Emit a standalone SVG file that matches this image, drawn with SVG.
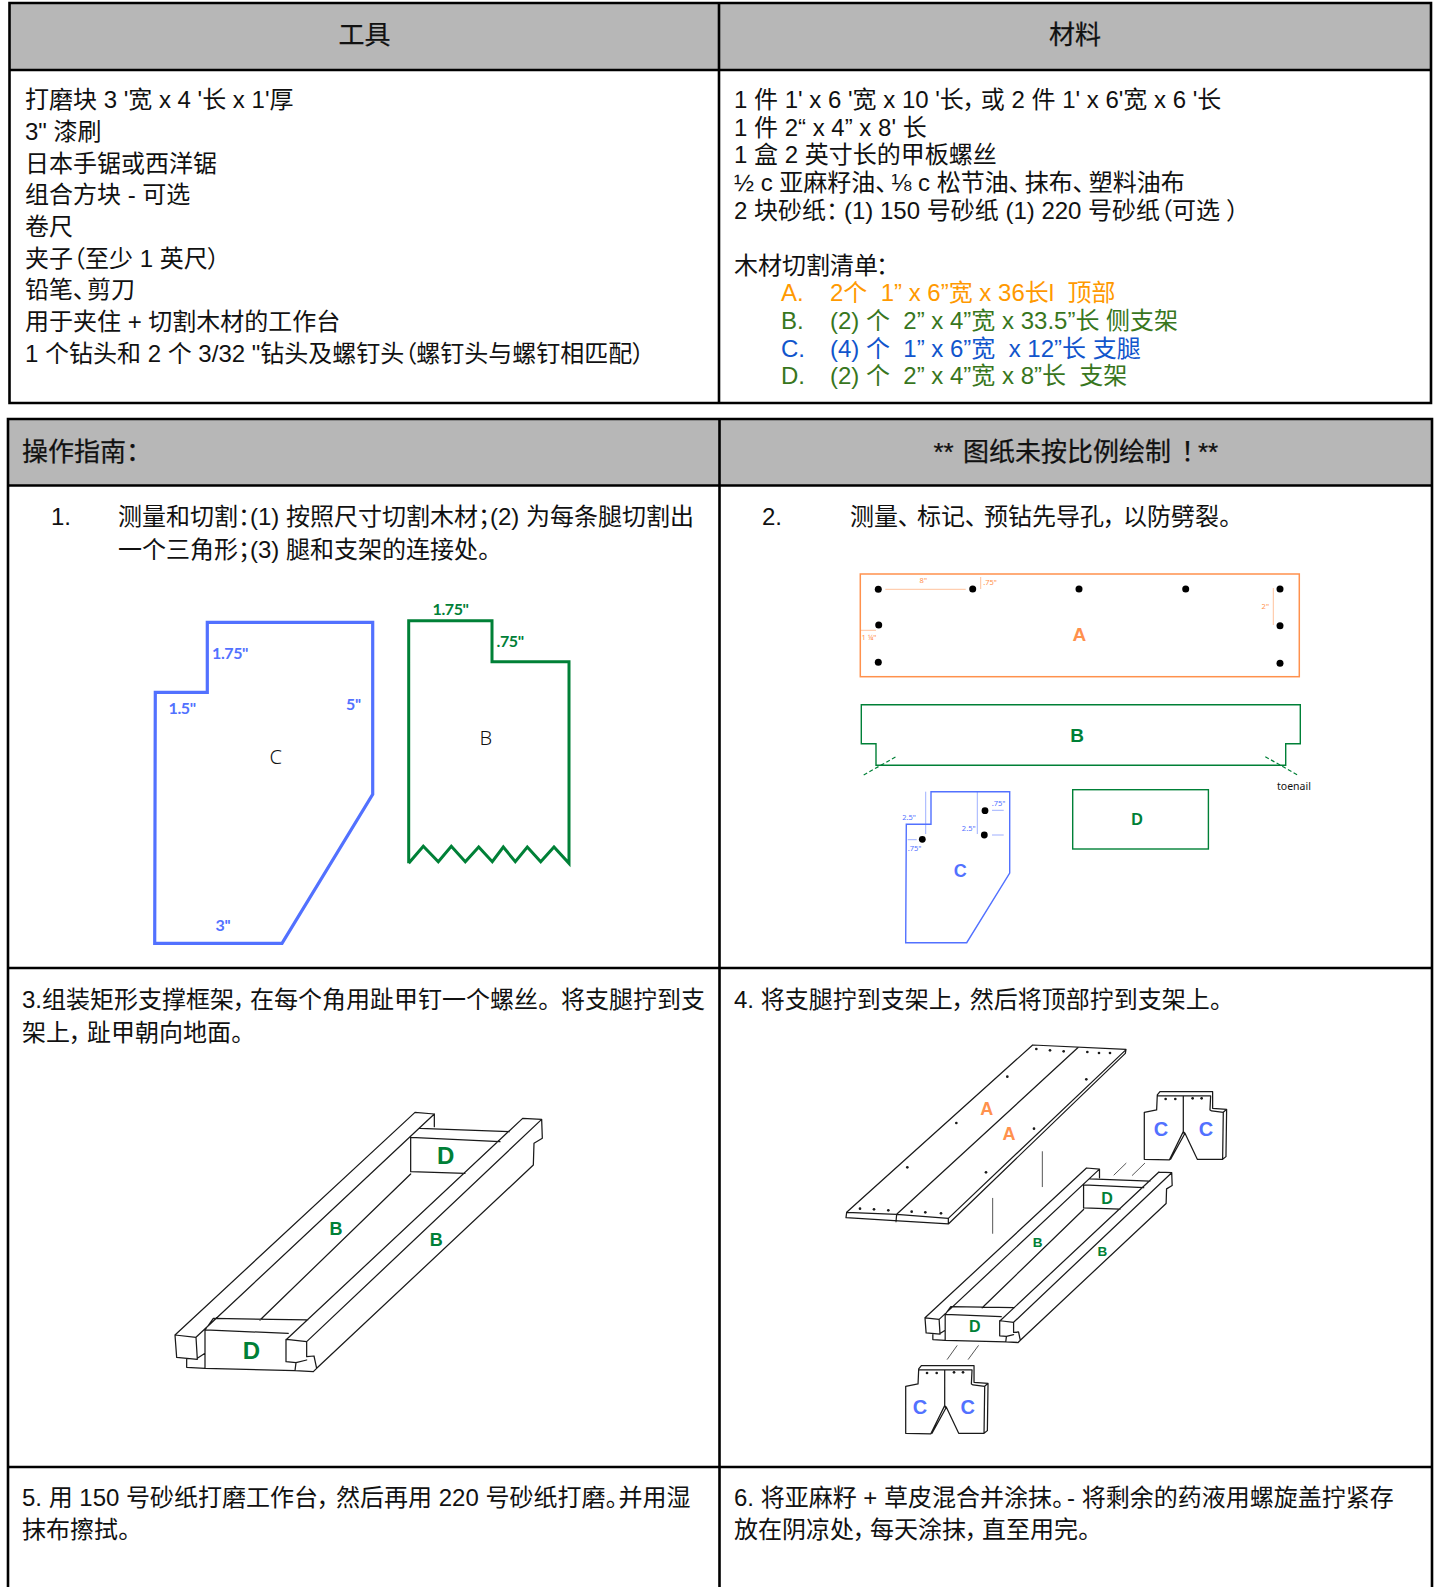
<svg xmlns="http://www.w3.org/2000/svg" width="1437" height="1587" viewBox="0 0 1437 1587">
<style>
text{font-family:"Liberation Sans","Noto Sans CJK SC",sans-serif;font-size:24px;fill:#111;font-feature-settings:"palt";white-space:pre}
.c{text-anchor:middle}
.h{font-size:26px;stroke:#111;stroke-width:.25}
.t{fill:none;stroke:#000;stroke-width:2.6}
.o{fill:#ff9900}.g{fill:#38761d}.b{fill:#1155cc}
.lb{font-family:"Lato","Noto Sans",sans-serif;font-weight:700;font-size:16px;letter-spacing:-.4px;font-feature-settings:normal}
.lc{font-family:"Liberation Sans",sans-serif;font-weight:700;text-anchor:middle;dominant-baseline:central;font-feature-settings:normal}
.sm{font-family:"Noto Sans",sans-serif;font-size:7.5px;text-anchor:middle;font-feature-settings:normal}
.bl{font-family:"Noto Sans",sans-serif;font-size:20px;font-weight:300;text-anchor:middle;font-feature-settings:normal}
.ln{fill:none;stroke:#1a1a1a;stroke-width:1.25;stroke-linejoin:round;stroke-linecap:round;vector-effect:non-scaling-stroke}
.ar{stroke-width:.9;stroke:#444}
.cb{fill:#5271ff}.cg{fill:#008037}.co{fill:#ff914d}
.sb{fill:none;stroke:#5271ff}.sg{fill:none;stroke:#008037}.so{fill:none;stroke:#ff914d}
.dm{stroke-width:.8;opacity:.7}
</style>
<defs>
<g id="frame">
<path class="ln" d="M45 705L765 37L823 42L823 80M108 712L823 42M45 705L108 712L112 778L50 772L45 705M80 778L80 802L135 805M112 775L135 760M135 690L135 805L405 812M135 690L160 655L443 660M135 690L385 700M752 112L752 215L915 220M300 660L752 222M752 112L1020 125M780 85L1048 95M1088 55L380 718L440 725L1145 58L1088 55M1145 58L1147 115L1122 130L1120 195L470 805M440 725L440 770L462 768L470 805L460 815L405 812L408 788L378 785L378 718L380 718M408 788L440 780"/>
</g>
<g id="legs">
<path class="ln" d="M0 12L37 5L39 -40L47 -50L119 -50L205 -50L205 0L247 3L245 145L235 153L159 153L122 75L117 70L75 155L0 153ZM39 -37L115 -37L199 -37L197 5L202 8L237 12L235 153M237 12L247 3M117 -37L117 70L119 75M79 153L122 75"/>
<g fill="#1a1a1a"><circle cx="64" cy="-28" r="4"/><circle cx="93" cy="-28" r="4"/><circle cx="145" cy="-30" r="4"/><circle cx="172" cy="-30" r="4"/></g>
</g>
</defs>
<g id="table-top">
<rect x="9.500" y="3" width="1421.500" height="67" fill="#b7b7b7"/>
<path class="t" d="M9.500 3H1431V403H9.500ZM9.500 70H1431M719 3V403"/>
<text class="c h" x="364.500" y="44">工具</text>
<text class="c h" x="1075" y="44">材料</text>
</g>
<g id="tools">
<text x="25" y="108">打磨块 3 '宽 x 4 '长 x 1'厚</text>
<text x="25" y="140">3" 漆刷</text>
<text x="25" y="172">日本手锯或西洋锯</text>
<text x="25" y="203">组合方块 - 可选</text>
<text x="25" y="235">卷尺</text>
<text x="25" y="267">夹子（至少 1 英尺）</text>
<text x="25" y="298">铅笔、<tspan dx="2">剪刀</tspan></text>
<text x="25" y="330">用于夹住 + 切割木材的工作台</text>
<text x="25" y="362">1 个钻头和 2 个 3/32 "钻头及螺钉头（螺钉头与螺钉相匹配）</text>
</g>
<g id="materials">
<text x="734" y="108">1 件 1' x 6 '宽 x 10 '长，<tspan dx="5">或 2 件 1' x 6'宽 x 6 '长</tspan></text>
<text x="734" y="136">1 件 2“ x 4” x 8' 长</text>
<text x="734" y="163">1 盒 2 英寸长的甲板螺丝</text>
<text x="734" y="191">½ c 亚麻籽油、<tspan dx="4">⅛ c 松节油、</tspan><tspan dx="4">抹布、</tspan><tspan dx="4">塑料油布</tspan></text>
<text x="734" y="219">2 块砂纸：<tspan dx="6">(1) 150 号砂纸 (1) 220 号砂纸（可选 ）</tspan></text>
<text x="734" y="274">木材切割清单<tspan dx="-2">：</tspan></text>
<text class="o" x="781" y="301">A.</text><text class="o" x="830" y="301">2个  1” x 6”宽 x 36长l  顶部</text>
<text class="g" x="781" y="329">B.</text><text class="g" x="830" y="329">(2) 个  2” x 4”宽 x 33.5”长 侧支架</text>
<text class="b" x="781" y="357">C.</text><text class="b" x="830" y="357">(4) 个  1” x 6”宽  x 12”长 支腿</text>
<text class="g" x="781" y="384">D.</text><text class="g" x="830" y="384">(2) 个  2” x 4”宽 x 8”长  支架</text>
</g>
<g id="table-main">
<rect x="8" y="419" width="1424" height="66" fill="#b7b7b7"/>
<path class="t" d="M8 1587V419H1432V1587M8 485.500H1432M8 968H1432M8 1467H1432M719.500 419V1587"/>
<text class="h" x="22" y="461">操作指南：</text>
<text class="h" x="933.500" y="461">**<tspan x="963">图纸未按比例绘制</tspan><tspan x="1181">！</tspan><tspan x="1198">**</tspan></text>
</g>
<g id="step1">
<text x="51" y="525">1.</text>
<text x="118" y="525">测量和切割：(1) 按照尺寸切割木材；(2) 为每条腿切割出</text>
<text x="118" y="558">一个三角形；(3) 腿和支架的连接处。</text>
<path class="sb" stroke-width="3.200" d="M207.300 622.300H372.700V794.300L282 943.300H154.700L155.300 692.300H207.300Z"/>
<path class="sg" stroke-width="3" d="M408.700 863.300V620.700H492V661.700H569V863.300L554 847L540.700 861.700L527.300 847L515.300 861.700L503.300 847L492.300 861.700L478.700 847L465.300 861.700L451.300 846.300L438.300 861.700L423.300 846.300L408.700 863.300"/>
<text class="lb cb" x="212" y="659">1.75''</text>
<text class="lb cb" x="168.500" y="714">1.5''</text>
<text class="lb cb" x="346" y="710">5''</text>
<text class="lb cb" x="215.500" y="931">3''</text>
<text class="lb cg" x="432.500" y="615">1.75''</text>
<text class="lb cg" x="496.500" y="647">.75''</text>
<text class="bl" x="275.700" y="764">C</text>
<text class="bl" x="485.700" y="745">B</text>
</g>
<g id="step2">
<text x="762" y="525">2.</text>
<text x="850" y="525">测量、<tspan dx="7">标记、</tspan><tspan dx="7">预钻先导孔，</tspan><tspan dx="7">以防劈裂。</tspan></text>
<rect class="so" stroke-width="1.500" x="860.300" y="574" width="439" height="102.700"/>
<g fill="#000"><circle cx="878.300" cy="589.300" r="3.500"/><circle cx="972.700" cy="589" r="3.500"/><circle cx="1079" cy="589" r="3.500"/><circle cx="1185.700" cy="589" r="3.500"/><circle cx="1280" cy="589" r="3.500"/><circle cx="878.700" cy="625" r="3.500"/><circle cx="1280" cy="625.700" r="3.500"/><circle cx="878.300" cy="662.300" r="3.500"/><circle cx="1280" cy="663.300" r="3.500"/></g>
<path class="so dm" d="M885.300 589.300H965.700M980.700 577V589M1273.300 588V625M861 630.300H876"/>
<text class="sm co" x="923.300" y="583">8"</text><text class="sm co" x="990" y="585">.75"</text><text class="sm co" x="1265.300" y="609">2"</text><text class="sm co" x="869" y="640">1 ¼"</text>
<text class="lc co" style="font-size:19px" x="1079.300" y="634">A</text>
<path class="sg" stroke-width="1.400" d="M861.300 704.700H1300.300V743.700H1285.700V765.300H876V743.700H861.300Z"/>
<path class="sg" stroke-width="1.200" stroke-dasharray="4 2.500" d="M863.700 775L896 756.700M1265.300 756.700L1297.700 775"/>
<text class="lc cg" style="font-size:19px" x="1077" y="735">B</text>
<text style="font-family:'Noto Sans',sans-serif;font-size:10.500px;font-feature-settings:normal" x="1277" y="789.500" fill="#222">toenail</text>
<path class="sb" stroke-width="1.400" d="M931 791.700H1009.700V873L966.700 942.700H905.700L906.300 824.300H931Z"/>
<g fill="#000"><circle cx="985" cy="810.700" r="3.400"/><circle cx="984.300" cy="835" r="3.400"/><circle cx="922.300" cy="839.300" r="3.400"/></g>
<path class="sb dm" d="M925.700 791.700V834M977.300 791.700V834M992 810.300H1003.700M992 835H1003.700M907.700 839.700H916.700"/>
<text class="sm cb" x="909" y="820">2.5"</text><text class="sm cb" x="968.700" y="831">2.5"</text><text class="sm cb" x="998.500" y="806">.75"</text><text class="sm cb" x="914.500" y="850.500">.75"</text>
<text class="lc cb" style="font-size:18px" x="960.300" y="871">C</text>
<rect class="sg" stroke-width="1.400" x="1072.700" y="789.700" width="135.700" height="59.300"/>
<text class="lc cg" style="font-size:16px" x="1137" y="819.700">D</text>
</g>
<g id="step3">
<text x="22" y="1008">3.组装矩形支撑框架，<tspan dx="4">在每个角用趾甲钉一个螺丝。</tspan><tspan dx="11">将支腿拧到支</tspan></text>
<text x="22" y="1041">架上，<tspan dx="5">趾甲朝向地面。</tspan></text>
<use href="#frame" transform="translate(160 1100) scale(.33333)"/>
<text class="lc cg" style="font-size:24px" x="445.700" y="1155.500">D</text>
<text class="lc cg" style="font-size:24px" x="251.500" y="1350.500">D</text>
<text class="lc cg" style="font-size:18px" x="336" y="1228.700">B</text>
<text class="lc cg" style="font-size:18px" x="436.300" y="1240.300">B</text>
</g>
<g id="step4">
<text x="734" y="1008">4. 将支腿拧到支架上，<tspan dx="5">然后将顶部拧到支架上。</tspan></text>
<g transform="translate(830 1030) scale(.33333)">
<path class="ln" d="M50 547L608 45L888 58L886 70L355 582L205 573L48 563L50 547L200 553L355 565L885 62M200 553L745 52M200 553L198 575M355 565L355 582"/>
<path class="ln ar" d="M637 365V470M488 505V610M888 400L852 435M944 400L907 436"/>
<g fill="#1a1a1a"><circle cx="90" cy="536" r="4"/><circle cx="132" cy="538" r="4"/><circle cx="175" cy="541" r="4"/><circle cx="245" cy="545" r="4"/><circle cx="286" cy="547" r="4"/><circle cx="333" cy="550" r="4"/><circle cx="232" cy="412" r="4"/><circle cx="379" cy="279" r="4"/><circle cx="532" cy="140" r="4"/><circle cx="619" cy="57" r="4"/><circle cx="660" cy="61" r="4"/><circle cx="701" cy="64" r="4"/><circle cx="772" cy="66" r="4"/><circle cx="807" cy="69" r="4"/><circle cx="840" cy="69" r="4"/><circle cx="769" cy="148" r="4"/><circle cx="612" cy="296" r="4"/><circle cx="468" cy="427" r="4"/></g>
</g>
<use href="#frame" transform="translate(914.900 1159.700) scale(.2243)"/>
<path class="ln ar" d="M947.300 1359.300L957 1345.700M968.300 1359.300L978.300 1345.700"/>
<use href="#legs" transform="translate(1144.300 1108.300) scale(.33333)"/>
<use href="#legs" transform="translate(905.700 1382.300) scale(.33333)"/>
<text class="lc co" style="font-size:18px" x="986.700" y="1109.300">A</text>
<text class="lc co" style="font-size:18px" x="1009" y="1134.300">A</text>
<text class="lc cb" style="font-size:20px" x="1161" y="1129.300">C</text>
<text class="lc cb" style="font-size:20px" x="1206" y="1129.300">C</text>
<text class="lc cb" style="font-size:20px" x="920" y="1406.700">C</text>
<text class="lc cb" style="font-size:20px" x="967.700" y="1406.700">C</text>
<text class="lc cg" style="font-size:16px" x="1107" y="1198.300">D</text>
<text class="lc cg" style="font-size:16px" x="974.700" y="1326">D</text>
<text class="lc cg" style="font-size:13.500px" x="1037.700" y="1242">B</text>
<text class="lc cg" style="font-size:13.500px" x="1102.300" y="1251.700">B</text>
</g>
<g id="step5">
<text x="22" y="1506">5. 用 150 号砂纸打磨工作台，<tspan dx="6">然后再用 220 号砂纸打磨。</tspan><tspan dx="1">并用湿</tspan></text>
<text x="22" y="1538">抹布擦拭。</text>
</g>
<g id="step6">
<text x="734" y="1506">6. 将亚麻籽 + 草皮混合并涂抹。<tspan dx="3">- 将剩余的药液用螺旋盖拧紧存</tspan></text>
<text x="734" y="1538">放在阴凉处，<tspan dx="4">每天涂抹，</tspan><tspan dx="4">直至用完。</tspan></text>
</g>
</svg>
